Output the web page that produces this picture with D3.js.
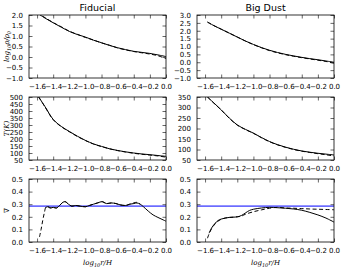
<!DOCTYPE html>
<html>
<head>
<meta charset="utf-8">
<script src="https://cdn.jsdelivr.net/npm/d3@7"></script>
<style>
body { margin: 0; background: #fff; }
text { font-family: "DejaVu Sans", sans-serif; }
</style>
</head>
<body>
<script>
// titles and tick labels
var titles = ["Fiducial", "Big Dust"];
var xTicks = [-1.6, -1.4, -1.2, -1.0, -0.8, -0.6, -0.4, -0.2, 0.0];

// density profiles (log10 r/H, log10 rho/rho0)
var rhoFidSolid = [[-1.6,2.1],[-1.5,1.85],[-1.4,1.63],[-1.3,1.42],[-1.2,1.22],[-1.1,1.07],[-1.0,0.95],[-0.9,0.8],[-0.8,0.68],[-0.7,0.55],[-0.6,0.44],[-0.5,0.35],[-0.4,0.27],[-0.3,0.22],[-0.2,0.17],[-0.1,0.1],[0.0,0.02]];
var rhoFidDash = [[-1.6,2.12],[-1.5,1.87],[-1.4,1.64],[-1.3,1.44],[-1.2,1.23],[-1.1,1.08],[-1.0,0.93],[-0.9,0.81],[-0.8,0.67],[-0.7,0.56],[-0.6,0.43],[-0.5,0.34],[-0.4,0.26],[-0.3,0.2],[-0.2,0.14],[-0.1,0.06],[0.0,-0.08]];
var rhoBigSolid = [[-1.57,2.55],[-1.5,2.35],[-1.4,2.1],[-1.3,1.85],[-1.2,1.6],[-1.1,1.35],[-1.0,1.13],[-0.9,0.93],[-0.8,0.76],[-0.7,0.62],[-0.6,0.5],[-0.5,0.4],[-0.4,0.31],[-0.3,0.23],[-0.2,0.16],[-0.1,0.08],[0.0,0.0]];
var rhoBigDash = [[-1.57,2.55],[-1.5,2.35],[-1.4,2.1],[-1.3,1.85],[-1.2,1.6],[-1.1,1.35],[-1.0,1.12],[-0.9,0.92],[-0.8,0.74],[-0.7,0.6],[-0.6,0.48],[-0.5,0.38],[-0.4,0.29],[-0.3,0.21],[-0.2,0.13],[-0.1,0.05],[0.0,-0.06]];

// temperature profiles (K)
var tFidSolid = [[-1.58,500],[-1.5,430],[-1.4,340],[-1.3,290],[-1.2,254],[-1.1,220],[-1.0,190],[-0.9,165],[-0.8,147],[-0.7,130],[-0.6,118],[-0.5,108],[-0.4,100],[-0.3,93],[-0.2,88],[-0.1,82],[0.0,76]];
var tFidDash = [[-1.58,500],[-1.5,428],[-1.4,338],[-1.3,288],[-1.2,252],[-1.1,218],[-1.0,189],[-0.9,164],[-0.8,146],[-0.7,130],[-0.6,117],[-0.5,107],[-0.4,98],[-0.3,91],[-0.2,85],[-0.1,79],[0.0,70]];
var tBigSolid = [[-1.57,350],[-1.5,325],[-1.4,289],[-1.3,250],[-1.2,217],[-1.1,196],[-1.0,178],[-0.9,157],[-0.8,138],[-0.7,123],[-0.6,111],[-0.5,101],[-0.4,93],[-0.3,87],[-0.2,82],[-0.1,78],[0.0,74]];
var tBigDash = [[-1.57,350],[-1.5,324],[-1.4,288],[-1.3,249],[-1.2,216],[-1.1,195],[-1.0,177],[-0.9,156],[-0.8,137],[-0.7,122],[-0.6,110],[-0.5,100],[-0.4,92],[-0.3,86],[-0.2,80],[-0.1,75],[0.0,69]];

// adiabatic gradient
var nablaAd = 0.285;
var nFidSolid = [[-1.5,0.27],[-1.47,0.28],[-1.44,0.27],[-1.4,0.275],[-1.36,0.27],[-1.32,0.29],[-1.28,0.315],[-1.25,0.32],[-1.21,0.3],[-1.17,0.285],[-1.12,0.29],[-1.07,0.285],[-1.0,0.28],[-0.95,0.29],[-0.9,0.3],[-0.85,0.31],[-0.79,0.32],[-0.74,0.305],[-0.68,0.31],[-0.62,0.305],[-0.57,0.295],[-0.5,0.29],[-0.45,0.3],[-0.4,0.305],[-0.36,0.31],[-0.32,0.3],[-0.28,0.28],[-0.22,0.245],[-0.16,0.215],[-0.1,0.195],[-0.05,0.18],[0.0,0.165]];
var nFidDash = [[-1.57,0.04],[-1.55,0.1],[-1.53,0.17],[-1.51,0.23],[-1.49,0.275],[-1.46,0.28],[-1.43,0.27],[-1.4,0.275],[-1.36,0.27],[-1.32,0.29],[-1.28,0.315],[-1.25,0.32],[-1.21,0.3],[-1.17,0.285],[-1.12,0.29],[-1.07,0.285],[-1.0,0.28],[-0.95,0.29],[-0.9,0.3],[-0.85,0.31],[-0.79,0.32],[-0.74,0.305],[-0.68,0.31],[-0.62,0.305],[-0.57,0.295],[-0.5,0.29],[-0.45,0.3],[-0.4,0.31],[-0.36,0.315],[-0.32,0.3]];
var nBigSolid = [[-1.55,0.07],[-1.52,0.11],[-1.48,0.145],[-1.44,0.17],[-1.4,0.182],[-1.35,0.19],[-1.3,0.195],[-1.25,0.197],[-1.2,0.2],[-1.15,0.21],[-1.1,0.23],[-1.05,0.25],[-1.0,0.26],[-0.9,0.27],[-0.8,0.275],[-0.7,0.272],[-0.6,0.268],[-0.5,0.262],[-0.4,0.252],[-0.3,0.235],[-0.2,0.215],[-0.1,0.19],[0.0,0.158]];
var nBigDash = [[-1.57,0.03],[-1.54,0.08],[-1.5,0.125],[-1.45,0.16],[-1.4,0.18],[-1.35,0.19],[-1.3,0.195],[-1.25,0.197],[-1.2,0.2],[-1.15,0.205],[-1.1,0.22],[-1.0,0.24],[-0.9,0.255],[-0.8,0.268],[-0.7,0.275],[-0.6,0.27],[-0.5,0.268],[-0.4,0.265],[-0.3,0.262],[-0.2,0.26],[-0.1,0.258],[0.0,0.256]];

var W = 349, H = 270;
var svg = d3.select("body").append("svg").attr("width", W).attr("height", H);

var cols = [29, 197], colW = 137;
var rows = [15, 97, 179], rowH = 63;

var panels = [
  {c:0, r:0, y:[-1,2], yt:d3.range(-1,2.01,0.5), fmt:d3.format(".1f"), lines:[rhoFidSolid, rhoFidDash]},
  {c:1, r:0, y:[-1,3], yt:d3.range(-1,3.01,0.5), fmt:d3.format(".1f"), lines:[rhoBigSolid, rhoBigDash]},
  {c:0, r:1, y:[50,500], yt:d3.range(50,501,50), fmt:d3.format("d"), lines:[tFidSolid, tFidDash]},
  {c:1, r:1, y:[50,350], yt:d3.range(50,351,50), fmt:d3.format("d"), lines:[tBigSolid, tBigDash]},
  {c:0, r:2, y:[0,0.5], yt:d3.range(0,0.51,0.1), fmt:d3.format(".1f"), lines:[nFidSolid, nFidDash], ad:true},
  {c:1, r:2, y:[0,0.5], yt:d3.range(0,0.51,0.1), fmt:d3.format(".1f"), lines:[nBigSolid, nBigDash], ad:true}
];

var minus = function(s){ return s.replace("-", "\u2212"); };

panels.forEach(function(p, i){
  var x0 = cols[p.c], y0 = rows[p.r];
  var x = d3.scaleLinear().domain([-1.7, 0]).range([0, colW]);
  var y = d3.scaleLinear().domain(p.y).range([rowH, 0]);
  var g = svg.append("g").attr("transform", "translate(" + x0 + "," + y0 + ")");

  g.append("clipPath").attr("id", "clip" + i)
    .append("rect").attr("width", colW).attr("height", rowH);

  var line = d3.line().x(function(d){ return x(d[0]); }).y(function(d){ return y(d[1]); })
    .curve(d3.curveCatmullRom);
  var plot = g.append("g").attr("clip-path", "url(#clip" + i + ")");
  if (p.ad) {
    plot.append("line").attr("x1", 0).attr("x2", colW)
      .attr("y1", y(nablaAd)).attr("y2", y(nablaAd))
      .attr("stroke", "#0000ff").attr("stroke-width", 1);
  }
  plot.append("path").datum(p.lines[0]).attr("d", line)
    .attr("fill", "none").attr("stroke", "#000").attr("stroke-width", 1);
  plot.append("path").datum(p.lines[1]).attr("d", line)
    .attr("fill", "none").attr("stroke", "#000").attr("stroke-width", 1)
    .attr("stroke-dasharray", "4,2.5");

  // axes: ticks inward on all four sides
  var fs = "7px";
  var bottom = g.append("g").attr("transform", "translate(0," + rowH + ")")
    .call(d3.axisBottom(x).tickValues(xTicks).tickSizeInner(-3.5).tickSizeOuter(0).tickPadding(6)
      .tickFormat(function(d){ return minus(d3.format(".1f")(d)); }));
  var top = g.append("g")
    .call(d3.axisTop(x).tickValues(xTicks).tickSizeInner(-3.5).tickSizeOuter(0).tickFormat(""));
  var left = g.append("g")
    .call(d3.axisLeft(y).tickValues(p.yt).tickSizeInner(-3.5).tickSizeOuter(0).tickPadding(6)
      .tickFormat(function(d){ return minus(p.fmt(d)); }));
  var right = g.append("g").attr("transform", "translate(" + colW + ",0)")
    .call(d3.axisRight(y).tickValues(p.yt).tickSizeInner(-3.5).tickSizeOuter(0).tickFormat(""));
  [bottom, top, left, right].forEach(function(a){
    a.select(".domain").remove();
    a.selectAll("line").attr("stroke", "#000").attr("stroke-width", 0.6);
    a.selectAll("text").style("font-size", fs).attr("fill", "#000")
      .style("font-family", "DejaVu Sans, sans-serif");
  });
  g.append("rect").attr("width", colW).attr("height", rowH)
    .attr("fill", "none").attr("stroke", "#000").attr("stroke-width", 0.8);

  if (p.r === 0) {
    g.append("text").attr("x", colW / 2).attr("y", -4).attr("text-anchor", "middle")
      .style("font-size", "9.5px").text(titles[p.c]);
  }
  if (p.r === 2) {
    var xl = g.append("text").attr("x", colW / 2).attr("y", rowH + 23).attr("text-anchor", "middle")
      .style("font-family", "DejaVu Serif, serif").style("font-style", "italic").style("font-size", "7px");
    xl.append("tspan").text("log");
    xl.append("tspan").attr("dy", 1.5).style("font-size", "5px").text("10");
    xl.append("tspan").attr("dy", -1.5).text("r/H");
  }
});

// y labels on the left column
var ylab = [
  {y: rows[0] + rowH / 2, parts: [["log",0],["10",1.5,"5px"],["\u03c1/\u03c1",-1.5],["0",1.5,"5px"]]},
  {y: rows[1] + rowH / 2, parts: [["T(K)",0]]},
  {y: rows[2] + rowH / 2, parts: [["\u2207",0]]}
];
ylab.forEach(function(l){
  var t = svg.append("text").attr("transform", "translate(9," + l.y + ") rotate(-90)")
    .attr("text-anchor", "middle")
    .style("font-family", "DejaVu Serif, serif").style("font-style", "italic").style("font-size", "7px");
  l.parts.forEach(function(p){
    var s = t.append("tspan").attr("dy", p[1]).text(p[0]);
    if (p[2]) s.style("font-size", p[2]);
  });
});
</script>
</body>
</html>
